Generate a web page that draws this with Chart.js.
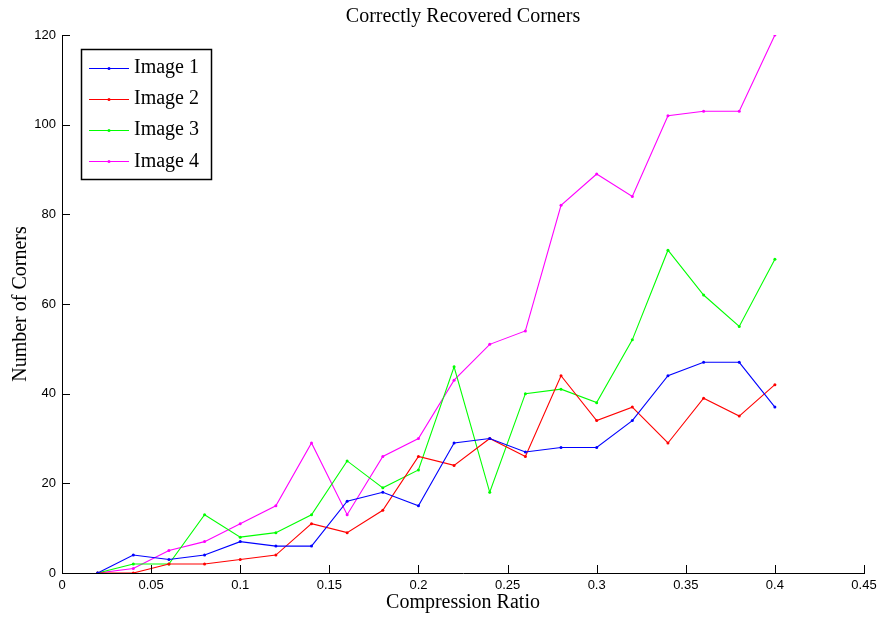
<!DOCTYPE html>
<html>
<head>
<meta charset="utf-8">
<script src="https://cdn.jsdelivr.net/npm/chart.js@4/dist/chart.umd.min.js"></script>
<style>
  html, body { margin: 0; padding: 0; background: #fff; }
  #wrap { width: 882px; height: 618px; position: relative; }
</style>
</head>
<body>
<div id="wrap"><canvas id="c" width="882" height="618"></canvas></div>
<script>
// ---- data ----
const compressionRatios = [0.02, 0.04, 0.06, 0.08, 0.10, 0.12, 0.14, 0.16, 0.18, 0.20,
                           0.22, 0.24, 0.26, 0.28, 0.30, 0.32, 0.34, 0.36, 0.38, 0.40];
const image1 = [0, 4, 3, 4, 7, 6, 6, 16, 18, 15, 29, 30, 27, 28, 28, 34, 44, 47, 47, 37];
const image2 = [0, 0, 2, 2, 3, 4, 11, 9, 14, 26, 24, 30, 26, 44, 34, 37, 29, 39, 35, 42];
const image3 = [0, 2, 2, 13, 8, 9, 13, 25, 19, 23, 46, 18, 40, 41, 38, 52, 72, 62, 55, 70];
const image4 = [0, 1, 5, 7, 11, 15, 29, 13, 26, 30, 43, 51, 54, 82, 89, 84, 102, 103, 103, 120];
const seriesNames = ['Image 1', 'Image 2', 'Image 3', 'Image 4'];
const xTickLabels = ['0', '0.05', '0.1', '0.15', '0.2', '0.25', '0.3', '0.35', '0.4', '0.45'];
const yTickLabels = ['0', '20', '40', '60', '80', '100', '120'];
const chartTitle = 'Correctly Recovered Corners';
const xAxisTitle = 'Compression Ratio';
const yAxisTitle = 'Number of Corners';

const colors = ['#0000ff', '#ff0000', '#00ff00', '#ff00ff'];
const serif = '"Liberation Serif", "DejaVu Serif", serif';
const sans = '"Liberation Sans", Arial, sans-serif';

function toPoints(ys) { return ys.map((y, i) => ({ x: compressionRatios[i], y: y })); }
const allSeries = [image1, image2, image3, image4];

const datasets = allSeries.map((s, i) => ({
  label: seriesNames[i],
  data: toPoints(s),
  borderColor: colors[i],
  backgroundColor: colors[i],
  borderWidth: 1.1,
  pointRadius: 1.5,
  pointBorderWidth: 0,
  pointHoverRadius: 1.5,
  tension: 0,
  fill: false
}));

// inward ticks (MATLAB style)
const inwardTicks = {
  id: 'inwardTicks',
  afterDraw(chart) {
    const ctx = chart.ctx;
    const xs = chart.scales.x, ys = chart.scales.y;
    const area = chart.chartArea;
    const len = 8;
    ctx.save();
    ctx.strokeStyle = '#000';
    ctx.lineWidth = 1;
    ctx.beginPath();
    xs.ticks.forEach(t => {
      const px = Math.round(xs.getPixelForValue(t.value)) + 0.5;
      ctx.moveTo(px, area.bottom);
      ctx.lineTo(px, area.bottom - len);
    });
    ys.ticks.forEach(t => {
      const py = Math.round(ys.getPixelForValue(t.value)) + 0.5;
      ctx.moveTo(area.left, py);
      ctx.lineTo(area.left + len, py);
    });
    ctx.stroke();
    ctx.restore();
  }
};

// legend box inside the plot (top-left)
const boxLegend = {
  id: 'boxLegend',
  afterDraw(chart) {
    const ctx = chart.ctx;
    const x0 = 81, y0 = 49, w = 130, h = 130;
    ctx.save();
    ctx.fillStyle = '#fff';
    ctx.fillRect(x0, y0, w, h);
    ctx.strokeStyle = '#000';
    ctx.lineWidth = 1.5;
    ctx.strokeRect(x0 + 0.5, y0 + 0.5, w, h);
    ctx.font = '20px ' + serif;
    ctx.textBaseline = 'middle';
    ctx.textAlign = 'left';
    chart.data.datasets.forEach((ds, i) => {
      const cy = 67.5 + i * 31.3;
      ctx.strokeStyle = ds.borderColor;
      ctx.lineWidth = 1;
      ctx.beginPath();
      ctx.moveTo(89, Math.round(cy) + 0.5);
      ctx.lineTo(129, Math.round(cy) + 0.5);
      ctx.stroke();
      ctx.fillStyle = ds.borderColor;
      ctx.beginPath();
      ctx.arc(109, Math.round(cy) + 0.5, 1.5, 0, Math.PI * 2);
      ctx.fill();
      ctx.fillStyle = '#000';
      ctx.fillText(ds.label, 134, cy);
    });
    ctx.restore();
  }
};

new Chart(document.getElementById('c'), {
  type: 'line',
  data: { datasets: datasets },
  plugins: [inwardTicks, boxLegend],
  options: {
    responsive: false,
    animation: false,
    events: [],
    layout: { padding: { left: 0, right: 18, top: 0, bottom: 0 } },
    plugins: {
      legend: { display: false },
      tooltip: { enabled: false },
      title: {
        display: true,
        text: chartTitle,
        fullSize: false,
        color: '#000',
        font: { family: serif, size: 20, weight: 'normal' },
        padding: { top: 5, bottom: 6 }
      }
    },
    scales: {
      x: {
        type: 'linear',
        min: 0,
        max: 0.45,
        afterFit: s => { s.height = 45; },
        afterBuildTicks: s => { s.ticks = xTickLabels.map(v => ({ value: parseFloat(v) })); },
        ticks: {
          color: '#000',
          font: { family: sans, size: 13 },
          padding: 5,
          maxRotation: 0,
          autoSkip: false,
          callback: (v, i) => xTickLabels[i]
        },
        grid: { drawOnChartArea: false, drawTicks: false },
        border: { display: true, color: '#000', width: 1 },
        title: {
          display: true,
          text: xAxisTitle,
          color: '#000',
          font: { family: serif, size: 20 },
          padding: { top: 0, bottom: 3 }
        }
      },
      y: {
        type: 'linear',
        min: 0,
        max: 120,
        afterFit: s => { s.width = 62; },
        afterBuildTicks: s => { s.ticks = yTickLabels.map(v => ({ value: parseFloat(v) })); },
        ticks: {
          color: '#000',
          font: { family: sans, size: 13 },
          padding: 6,
          autoSkip: false,
          callback: (v, i) => yTickLabels[i]
        },
        grid: { drawOnChartArea: false, drawTicks: false },
        border: { display: true, color: '#000', width: 1 },
        title: {
          display: true,
          text: yAxisTitle,
          color: '#000',
          font: { family: serif, size: 20 },
          padding: { top: 9, bottom: 0 }
        }
      }
    }
  }
});
</script>
</body>
</html>
